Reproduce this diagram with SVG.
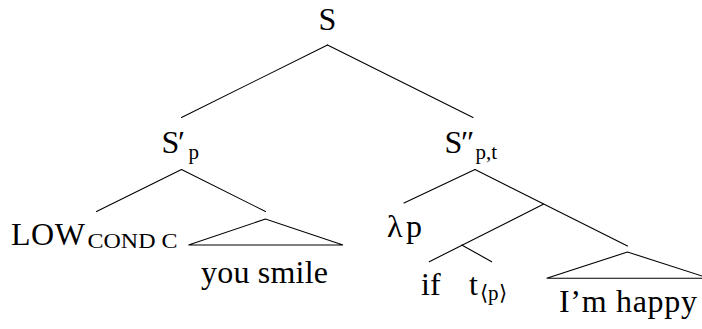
<svg xmlns="http://www.w3.org/2000/svg" width="702" height="329" viewBox="0 0 702 329">
<rect width="702" height="329" fill="#fff"/>
<g id="connectors" stroke="#000" stroke-width="1.1" fill="none" stroke-linecap="round">
<line x1="327.5" y1="45" x2="181.5" y2="117.5"/>
<line x1="327.5" y1="45" x2="473" y2="117.5"/>
<line x1="181.5" y1="169.5" x2="96.5" y2="211.5"/>
<line x1="181.5" y1="169.5" x2="265.5" y2="211.5"/>
<line x1="475" y1="169.5" x2="404" y2="203"/>
<line x1="475" y1="169.5" x2="627.5" y2="246"/>
<line x1="543.3" y1="204.3" x2="429.3" y2="261.7"/>
<line x1="461.7" y1="245" x2="491.7" y2="261.7"/>
</g>
<text font-family="Tinos, 'Times New Roman', serif" font-size="32" x="327.5" y="29.5" text-anchor="middle" id="node-S">S</text>
<text font-family="Tinos, 'Times New Roman', serif" font-size="32" x="161.5" y="153.3" id="node-Sp">S<tspan x="178">′</tspan><tspan font-size="21" x="188.5" y="159">p</tspan></text>
<text font-family="Tinos, 'Times New Roman', serif" font-size="32" x="444.5" y="153.3" id="node-Spt">S<tspan x="461">″</tspan><tspan font-size="21" x="475.5" y="159">p,t</tspan></text>
<text font-family="Tinos, 'Times New Roman', serif" font-size="32" x="11" y="245" textLength="74" id="node-LOW">LOW</text>
<text font-family="Tinos, 'Times New Roman', serif" font-size="21" x="87.5" y="248" textLength="90" lengthAdjust="spacingAndGlyphs">COND C</text>
<polygon id="node-yousmile" stroke="#000" stroke-width="1.1" fill="none" points="265.5,219 188.5,245 343,245"/>
<text font-family="Tinos, 'Times New Roman', serif" font-size="32" x="201" y="283.3" textLength="127">you smile</text>
<text font-family="Tinos, 'Times New Roman', serif" font-size="32" x="387" y="237" textLength="35" id="node-lambda">λp</text>
<text font-family="Tinos, 'Times New Roman', serif" font-size="32" x="421" y="294.5" id="node-if">if</text>
<text font-family="Tinos, 'Times New Roman', serif" font-size="32" x="469" y="294.5" id="node-t">t<tspan font-size="21" x="480" y="299.5">⟨p⟩</tspan></text>
<polygon id="node-happy" stroke="#000" stroke-width="1.1" fill="none" points="627.5,252 546.7,278.3 709,278.3"/>
<text font-family="Tinos, 'Times New Roman', serif" font-size="32" x="559" y="312" textLength="138">I’m happy</text>
</svg>
